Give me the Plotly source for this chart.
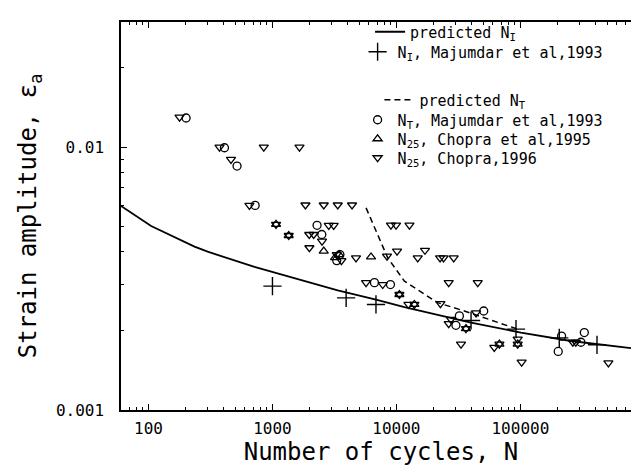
import numpy as np
import plotly.graph_objects as go

# ---------------- data ----------------
# predicted N_I (solid curve)
pred_NI_N = [60, 105, 235, 300, 716, 1040, 3360, 6840, 11600, 40000, 101000, 256000, 780000]
pred_NI_eps = [0.00597, 0.00501, 0.00418, 0.00400, 0.00350, 0.00333, 0.00285, 0.00263,
               0.00246, 0.00215, 0.00197, 0.00183, 0.00172]

# N_I, Majumdar et al, 1993 (+)
plus_N = [1000, 3930, 6840, 40000, 92200, 206000, 415000, 1000000]
plus_eps = [0.00296, 0.00267, 0.00252, 0.00219, 0.00203, 0.00188, 0.00177, 0.00168]

# predicted N_T (dashed curve)
pred_NT_N = [5690, 7060, 8510, 11600, 21500, 35300, 51300, 95100]
pred_NT_eps = [0.00587, 0.00466, 0.00379, 0.00309, 0.00256, 0.00238, 0.00224, 0.00203]

# N_T, Majumdar et al, 1993 (o)
circ_N = [201, 410, 518, 725, 2290, 2500, 3300, 3500, 6650, 8950,
          30200, 32200, 50600, 202000, 215000, 308000, 328000]
circ_eps = [0.0129, 0.00994, 0.00847, 0.0060, 0.00504, 0.00465, 0.0037, 0.0039, 0.00305, 0.0030,
            0.0021, 0.00228, 0.00238, 0.00167, 0.00191, 0.00181, 0.00197]

# N_25, Chopra et al, 1995 (triangle up)
tup_N = [1069, 1353, 2593, 3200, 3450, 6240, 10570, 13960, 36400, 67750, 95100]
tup_eps = [0.00508, 0.00461, 0.00402, 0.0038, 0.0039, 0.00382, 0.00275, 0.00252, 0.00204, 0.00178, 0.00178]

# N_25, Chopra, 1996 (triangle down)
tdn_N = [178, 374, 463, 652, 851, 1652, 1069, 1353, 1845, 2593, 3363, 4385,
         1980, 2150, 2844, 3119, 2512, 1986, 3300, 3600, 4720, 8394, 10120,
         14860, 17000, 22500, 24000, 28970, 9035, 9930, 12740, 5690, 7753,
         26410, 45300, 12500, 13960, 22650, 43900, 26410, 27540, 33200, 61600,
         95100, 95100, 102400, 36400, 67750, 10570, 265000, 280000, 513000]
tdn_eps = [0.0130, 0.0100, 0.00898, 0.0060, 0.0100, 0.0100, 0.00508, 0.00461, 0.00602, 0.00602, 0.00602, 0.00602,
           0.00465, 0.00465, 0.00504, 0.00504, 0.00439, 0.00414, 0.0039, 0.0037, 0.00379, 0.00385, 0.00402,
           0.00379, 0.00405, 0.00379, 0.00379, 0.00379, 0.00505, 0.00505, 0.00505, 0.00305, 0.00300,
           0.00305, 0.00305, 0.00252, 0.00252, 0.00254, 0.00234, 0.00213, 0.00221, 0.00178, 0.00173,
           0.00186, 0.00178, 0.00152, 0.00204, 0.00178, 0.00275, 0.00181, 0.00181, 0.00151]

x_tick_vals = [100, 1000, 10000, 100000]
x_tick_text = ["100", "1000", "10000", "100000"]
y_tick_vals = [0.001, 0.01]
y_tick_text = ["0.001", "0.01"]

# ---------------- figure ----------------
FONT = "DejaVu Sans Mono"
fig = go.Figure()

fig.add_trace(go.Scatter(x=pred_NI_N, y=pred_NI_eps, mode="lines",
                         line=dict(color="black", width=1.8),
                         name="predicted N<sub>I</sub>", legend="legend"))
fig.add_trace(go.Scatter(x=plus_N, y=plus_eps, mode="markers", cliponaxis=False,
                         marker=dict(symbol="cross-thin", size=13, color="black",
                                     line=dict(color="black", width=1.4)),
                         name="N<sub>I</sub>, Majumdar et al,1993", legend="legend2"))
fig.add_trace(go.Scatter(x=pred_NT_N, y=pred_NT_eps, mode="lines",
                         line=dict(color="black", width=1.5, dash="6px,4px"),
                         name="predicted N<sub>T</sub>", legend="legend3"))
fig.add_trace(go.Scatter(x=circ_N, y=circ_eps, mode="markers",
                         marker=dict(symbol="circle-open", size=8, color="black",
                                     line=dict(color="black", width=1.3)),
                         name="N<sub>T</sub>, Majumdar et al,1993", legend="legend4"))
fig.add_trace(go.Scatter(x=tup_N, y=tup_eps, mode="markers",
                         marker=dict(symbol="triangle-up-open", size=8, color="black",
                                     line=dict(color="black", width=1.3)),
                         name="N<sub>25</sub>, Chopra et al,1995", legend="legend5"))
fig.add_trace(go.Scatter(x=tdn_N, y=tdn_eps, mode="markers",
                         marker=dict(symbol="triangle-down-open", size=8, color="black",
                                     line=dict(color="black", width=1.3)),
                         name="N<sub>25</sub>, Chopra,1996", legend="legend6"))

# plot area geometry
L, R, T, B = 113, 6, 14, 63
W, H = 639, 465
ph = H - T - B


def ypaper(py):
    return 1 - (py - T) / ph


leg_common = dict(font=dict(family=FONT, size=15, color="black"), bgcolor="rgba(0,0,0,0)",
                  borderwidth=0, xanchor="left", yanchor="middle", tracegroupgap=0)
legend_rows = {"legend": (0.479, 24), "legend2": (0.455, 44), "legend3": (0.497, 92),
               "legend4": (0.455, 112), "legend5": (0.455, 131), "legend6": (0.455, 150)}
legend_layout = {k: dict(x=x, y=ypaper(py), **leg_common) for k, (x, py) in legend_rows.items()}

x_minor = [m * 10 ** e for e in range(1, 6) for m in range(2, 10)]
y_minor = [m * 10 ** e for e in (-3, -2) for m in range(2, 10)]

axis_common = dict(showline=True, linecolor="black", linewidth=1.5, mirror="ticks",
                   ticks="inside", ticklen=6, tickwidth=1.3, tickcolor="black",
                   showgrid=False, zeroline=False,
                   tickfont=dict(family=FONT, size=16, color="black"))

fig.update_layout(
    width=W, height=H,
    margin=dict(l=L, r=R, t=T, b=B, autoexpand=False),
    paper_bgcolor="white", plot_bgcolor="white",
    showlegend=True,
    **legend_layout,
    xaxis=dict(type="log", range=[np.log10(60), np.log10(9.4e5)],
               tickvals=x_tick_vals, ticktext=x_tick_text,
               minor=dict(tickvals=x_minor, ticks="inside", ticklen=3, tickcolor="black", tickwidth=1),
               ticklabelstandoff=3,
               title=dict(text="Number of cycles, N", font=dict(family=FONT, size=24, color="black"),
                          standoff=1),
               **axis_common),
    yaxis=dict(type="log", range=[-3, np.log10(0.0299)],
               tickvals=y_tick_vals, ticktext=y_tick_text,
               minor=dict(tickvals=y_minor, ticks="inside", ticklen=3, tickcolor="black", tickwidth=1),
               ticklabelstandoff=12,
               title=dict(text="Strain amplitude, ε<sub>a</sub>", font=dict(family=FONT, size=24, color="black"),
                          standoff=12),
               **axis_common),
)

fig.write_html("out.html")
